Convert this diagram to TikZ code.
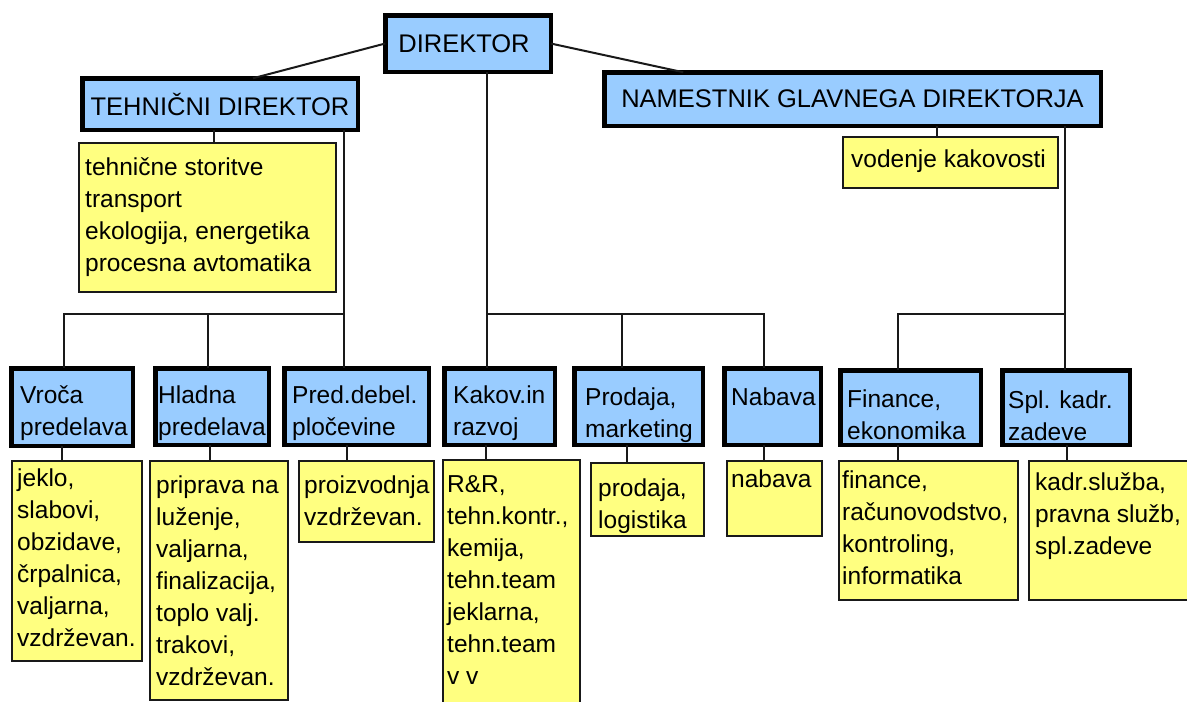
\documentclass[tikz,border=0pt]{standalone}
\usepackage{fontspec}
\setmainfont{Liberation Sans}
\definecolor{boxblue}{RGB}{153,204,255}
\definecolor{boxyellow}{RGB}{255,255,128}
\definecolor{linegray}{RGB}{25,25,25}

\tikzset{
  headbox/.style={draw=black, line width=4.5pt, fill=boxblue, inner sep=0pt, outer sep=0pt},
  notebox/.style={draw=linegray, line width=2pt, fill=boxyellow, inner sep=0pt, outer sep=0pt},
  headtext/.style={inner sep=0pt, font=\fontsize{25.5}{32}\selectfont},
  bodytext/.style={inner sep=0pt, anchor=north west, align=left, font=\fontsize{24.5}{32}\selectfont},
  link/.style={draw=linegray, line width=2pt},
}

% box given by outer edges (left, top, right, bottom), y measured downwards
\newcommand{\orgbox}[7]{%
  \node[#1, anchor=north west, minimum width={#6-#4-2*#3}, minimum height={#7-#5-2*#3}]
    (#2) at ({#4+#3},{-#5-#3}) {};}
% left-aligned text block: name, x, first baseline, lines
\newcommand{\boxtext}[4]{%
  \node[bodytext] (#1) at (#2,{24-#3}) {\rule{0pt}{24pt}#4};}

\begin{document}
\begin{tikzpicture}[x=1pt,y=1pt]
  \useasboundingbox (0,0) rectangle (1187,-702);
  \fill[white] (0,0) rectangle (1187,-702);
  \clip (0,0) rectangle (1187,-702);

  % top level
  \orgbox{headbox}{dir}{2.25}{383}{13}{553}{74}
  \orgbox{headbox}{td}{2.25}{80}{76}{360}{132}
  \orgbox{headbox}{ngd}{2.25}{602}{70}{1103}{128}
  \node[headtext] (dirT) at ([xshift=-4pt]dir.center) {DIREKTOR};
  \node[headtext] (tdT) at (td.center) {TEHNIČNI DIREKTOR};
  \node[headtext] (ngdT) at (ngd.center) {NAMESTNIK GLAVNEGA DIREKTORJA};

  \orgbox{notebox}{tdy}{1}{78}{142}{337}{293}
  \boxtext{tdyT}{85}{175}{tehnične storitve\\transport\\ekologija, energetika\\procesna avtomatika}
  \orgbox{notebox}{vod}{1}{842}{136}{1059}{189}
  \boxtext{vodT}{851}{167}{vodenje kakovosti}

  % departments
  \orgbox{headbox}{vroca}{2.25}{9}{366}{135}{448}
  \orgbox{headbox}{hladna}{2.25}{153}{366}{271}{447}
  \orgbox{headbox}{pred}{2.25}{282}{366}{431}{447}
  \orgbox{headbox}{kakov}{2.25}{442}{366}{557}{447}
  \orgbox{headbox}{prodaja}{2.25}{572}{366}{705}{447}
  \orgbox{headbox}{nabava}{2.25}{722}{366}{823}{447}
  \orgbox{headbox}{finance}{2.25}{838}{368}{983}{447}
  \orgbox{headbox}{spl}{2.25}{1000}{368}{1132}{447}
  \boxtext{vrocaT}{20}{403}{Vroča\\predelava}
  \boxtext{hladnaT}{158}{403}{Hladna\\predelava}
  \boxtext{predT}{292}{403}{Pred.debel.\\pločevine}
  \boxtext{kakovT}{453}{403}{Kakov.in\\razvoj}
  \boxtext{prodajaT}{585}{405}{Prodaja,\\marketing}
  \boxtext{nabavaT}{731}{405}{Nabava}
  \boxtext{financeT}{847}{407}{Finance,\\ekonomika}
  \boxtext{splT}{1008}{408}{Spl. kadr.\\zadeve}

  % task lists
  \orgbox{notebox}{jeklo}{1}{11}{460}{143}{662}
  \orgbox{notebox}{priprava}{1}{149}{460}{289}{701}
  \orgbox{notebox}{proiz}{1}{298}{460}{435}{543}
  \orgbox{notebox}{rr}{1}{442}{459}{581}{712}
  \orgbox{notebox}{prodajay}{1}{590}{462}{705}{537}
  \orgbox{notebox}{nabavay}{1}{726}{460}{823}{537}
  \orgbox{notebox}{financey}{1}{838}{460}{1019}{601}
  \orgbox{notebox}{kadr}{1}{1028}{460}{1200}{601}
  \boxtext{jekloT}{17}{486}{jeklo,\\slabovi,\\obzidave,\\črpalnica,\\valjarna,\\vzdrževan.}
  \boxtext{pripravaT}{156}{493}{priprava na\\luženje,\\valjarna,\\finalizacija,\\toplo valj.\\trakovi,\\vzdrževan.}
  \boxtext{proizT}{304}{493}{proizvodnja\\vzdrževan.}
  \boxtext{rrT}{447}{492}{R\&R,\\tehn.kontr.,\\kemija,\\tehn.team\\jeklarna,\\tehn.team\\v v}
  \boxtext{prodajayT}{598}{496}{prodaja,\\logistika}
  \boxtext{nabavayT}{731}{487}{nabava}
  \boxtext{financeyT}{842}{488}{finance,\\računovodstvo,\\kontroling,\\informatika}
  \boxtext{kadrT}{1035}{490}{kadr.služba,\\pravna služb,\\spl.zadeve}

  % links from the director
  \draw[link] (dir.west) -- ([xshift=33pt]td.north);
  \draw[link] (dir.east) -- ([xshift=79pt]ngd.north west);

  % technical director branch
  \coordinate (tdNote) at (214,0);
  \draw[link] (td.south -| tdNote) -- (tdy.north -| tdNote);
  \coordinate (tdBus) at (344,-314);
  \coordinate (busA) at (64,-314);
  \coordinate (busB) at (208,-314);
  \draw[link] (td.south -| tdBus) -- (tdBus) -- (busA) -- (vroca.north -| busA);
  \draw[link] (busB) -- (hladna.north -| busB);
  \draw[link] (tdBus) -- (pred.north -| tdBus);

  % director's own departments
  \coordinate (dirBus) at (487,-314);
  \coordinate (busC) at (622,-314);
  \coordinate (busD) at (764,-314);
  \draw[link] (dir.south -| dirBus) -- (dirBus) -- (busD) -- (nabava.north -| busD);
  \draw[link] (dirBus) -- (kakov.north -| dirBus);
  \draw[link] (busC) -- (prodaja.north -| busC);

  % deputy branch
  \coordinate (ngdNote) at (937,0);
  \draw[link] (ngd.south -| ngdNote) -- (vod.north -| ngdNote);
  \coordinate (ngdBus) at (1065,-314);
  \coordinate (busE) at (898,-314);
  \draw[link] (ngd.south -| ngdBus) -- (ngdBus) -- (busE) -- (finance.north -| busE);
  \draw[link] (ngdBus) -- (spl.north -| ngdBus);

  % department to task list
  \coordinate (dA) at (62,0);
  \coordinate (dB) at (210,0);
  \coordinate (dC) at (347,0);
  \coordinate (dD) at (486,0);
  \coordinate (dE) at (627,0);
  \coordinate (dF) at (764,0);
  \coordinate (dG) at (898,0);
  \coordinate (dH) at (1067,0);
  \draw[link] (vroca.south -| dA) -- (jeklo.north -| dA);
  \draw[link] (hladna.south -| dB) -- (priprava.north -| dB);
  \draw[link] (pred.south -| dC) -- (proiz.north -| dC);
  \draw[link] (kakov.south -| dD) -- (rr.north -| dD);
  \draw[link] (prodaja.south -| dE) -- (prodajay.north -| dE);
  \draw[link] (nabava.south -| dF) -- (nabavay.north -| dF);
  \draw[link] (finance.south -| dG) -- (financey.north -| dG);
  \draw[link] (spl.south -| dH) -- (kadr.north -| dH);
\end{tikzpicture}
\end{document}
